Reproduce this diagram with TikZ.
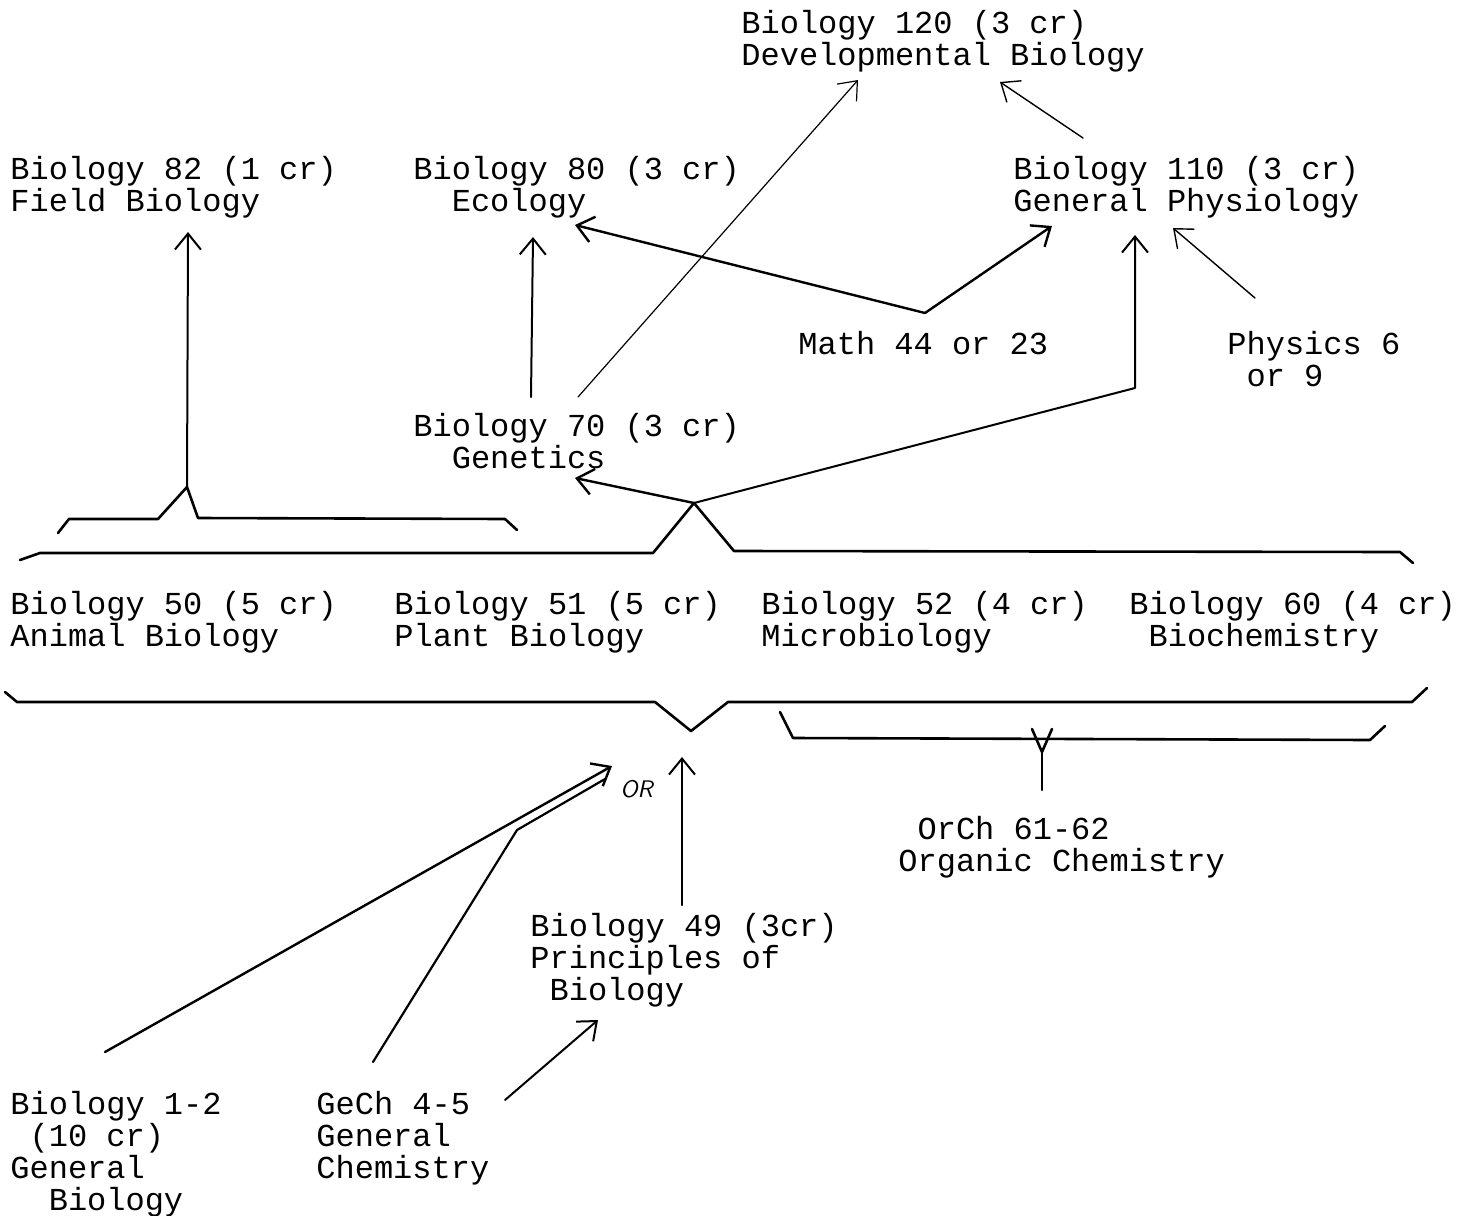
\documentclass[tikz,border=0pt]{standalone}
\usepackage{fontspec}
\setmonofont{Liberation Mono}
\usetikzlibrary{arrows.meta}

\begin{document}
\begin{tikzpicture}[x=0.5pt, y=-0.5pt,
    every node/.style={font=\ttfamily\fontsize{16}{16}\selectfont, align=left, anchor=north west, inner sep=0pt},
    arr/.style={-{Straight Barb[length=8pt,width=13pt]}, line width=1pt, line cap=round, line join=round},
    brace/.style={line width=1.3pt, line cap=round, line join=round}]
  \useasboundingbox (0,0) rectangle (1463,1216);

  % courses
  \node (bio120) at (741,10) {Biology 120 (3 cr)\\Developmental Biology};
  \node (bio82) at (10,156) {Biology 82 (1 cr)\\Field Biology};
  \node (bio80) at (413,156) {Biology 80 (3 cr)\\\hspace*{1.2em}Ecology};
  \node (bio110) at (1013,156) {Biology 110 (3 cr)\\General Physiology};
  \node (math) at (798,331) {Math 44 or 23};
  \node (phys) at (1227,331) {Physics 6\\\hspace*{0.6em}or 9};
  \node (bio70) at (413,413) {Biology 70 (3 cr)\\\hspace*{1.2em}Genetics};
  \node (bio50) at (10,591) {Biology 50 (5 cr)\\Animal Biology};
  \node (bio51) at (394,591) {Biology 51 (5 cr)\\Plant Biology};
  \node (bio52) at (761,591) {Biology 52 (4 cr)\\Microbiology};
  \node (bio60) at (1129,591) {Biology 60 (4 cr)\\\hspace*{0.6em}Biochemistry};
  \node (orch) at (898,816) {\hspace*{0.6em}OrCh 61-62\\Organic Chemistry};
  \node (bio49) at (530,913) {Biology 49 (3cr)\\Principles of\\\hspace*{0.6em}Biology};
  \node (bio12) at (10,1091) {Biology 1-2\\\hspace*{0.6em}(10 cr)\\General\\\hspace*{1.2em}Biology};
  \node (gech) at (316,1091) {GeCh 4-5\\General\\Chemistry};
  \node[font=\sffamily\itshape\fontsize{12}{12}\selectfont] (orlbl) at (620,780) {OR};

  % brace forks and connector ends
  \foreach \cname/\cx/\cy in {
    fieldfork/187/487, fieldtip/188/232,
    genfork/694/503, genetip/575/478, physbend/1135/388, phystip/1135/235,
    introfork/691/731, orchfork/1042/752, orchtop/1042/790,
    ortip/612/766, bio12top/105/1052, gechtop/373/1062, gechbend/517/830, gechtip/605/779,
    bio49top/682/905, introtip/682/757, gechright/505/1100, bio49tip/598/1020,
    bio70a/531/397, ecotip/533/237, bio70b/578/397, devtip/858/80,
    mathfork/925/313, ecotip2/575/225, gptip/1052/226,
    physstart/1255/298, gptip2/1173/228, gpstart/1083/138, devtip2/1000/82
  }{
    \coordinate (\cname) at (\cx,\cy);
  }

  % braces
  \draw[brace] (58,533) -- (69,519) -- (158,519) -- (fieldfork) -- (198,518) -- (505,519) -- (517,530);
  \draw[brace] (20,560) -- (40,553) -- (653,553) -- (genfork) -- (734,551) -- (1400,552) -- (1413,563);
  \draw[brace] (5,692) -- (17,702) -- (655,702) -- (introfork) -- (728,702) -- (1412,702) -- (1427,688);
  \draw[brace] (780,712) -- (793,738) -- (1370,740) -- (1385,726);
  \draw[brace] (1032,729) -- (orchfork) -- (1052,729);
  \draw[brace, line width=1pt] (orchfork) -- (orchtop);

  % prerequisites
  \draw[arr] (fieldfork) -- (fieldtip);
  \draw[arr, line width=1.2pt] (genfork) -- (genetip);
  \draw[arr] (genfork) -- (physbend) -- (phystip);
  \draw[arr, line width=1.2pt] (bio12top) -- (ortip);
  \draw[line width=1.1pt, line cap=round, line join=round] (gechtop) -- (gechbend) -- (gechtip);
  \draw[arr] (bio49top) -- (introtip);
  \draw[arr] (gechright) -- (bio49tip);
  \draw[arr] (bio70a) -- (ecotip);
  \draw[arr, line width=0.6pt] (bio70b) -- (devtip);
  \draw[arr, line width=1.2pt] (mathfork) -- (ecotip2);
  \draw[arr, line width=1.2pt] (mathfork) -- (gptip);
  \draw[arr, line width=0.7pt] (physstart) -- (gptip2);
  \draw[arr, line width=0.7pt] (gpstart) -- (devtip2);
\end{tikzpicture}
\end{document}
